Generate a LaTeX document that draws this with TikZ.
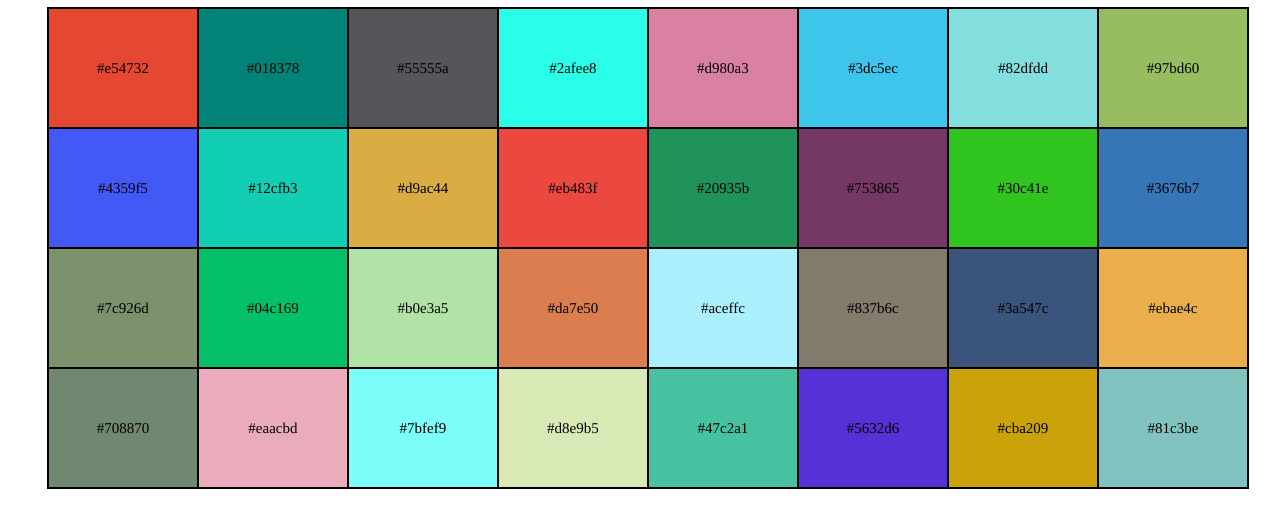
\documentclass[tikz,border=0pt]{standalone}
\usepackage{fontspec}
\setmainfont{Liberation Serif}
\tikzset{
  swatch/.style = {draw=black, line width=1.2pt, inner sep=0pt,
    minimum width=150pt, minimum height=120pt, text=black,
    text height=12pt, text depth=1pt,
    font=\fontsize{15}{18}\selectfont},% one colour cell
}

\begin{document}
\begin{tikzpicture}[x=1pt,y=-1pt]
    \useasboundingbox (0,0) rectangle (1275,520);
    % 8 x 4 grid, row by row
    \foreach \hex [count=\i from 0] in {e54732,018378,55555a,2afee8,d980a3,3dc5ec,82dfdd,97bd60,
        4359f5,12cfb3,d9ac44,eb483f,20935b,753865,30c41e,3676b7,
        7c926d,04c169,b0e3a5,da7e50,aceffc,837b6c,3a547c,ebae4c,
        708870,eaacbd,7bfef9,d8e9b5,47c2a1,5632d6,cba209,81c3be}{
        \pgfmathtruncatemacro\col{mod(\i,8)}
        \pgfmathtruncatemacro\row{div(\i,8)}
        \definecolor{cellcol}{HTML}{\hex}
        \node [swatch, fill=cellcol] (sw-\row-\col) at (123+150*\col, 68+120*\row) {\#\hex};
    }
\end{tikzpicture}
\end{document}
